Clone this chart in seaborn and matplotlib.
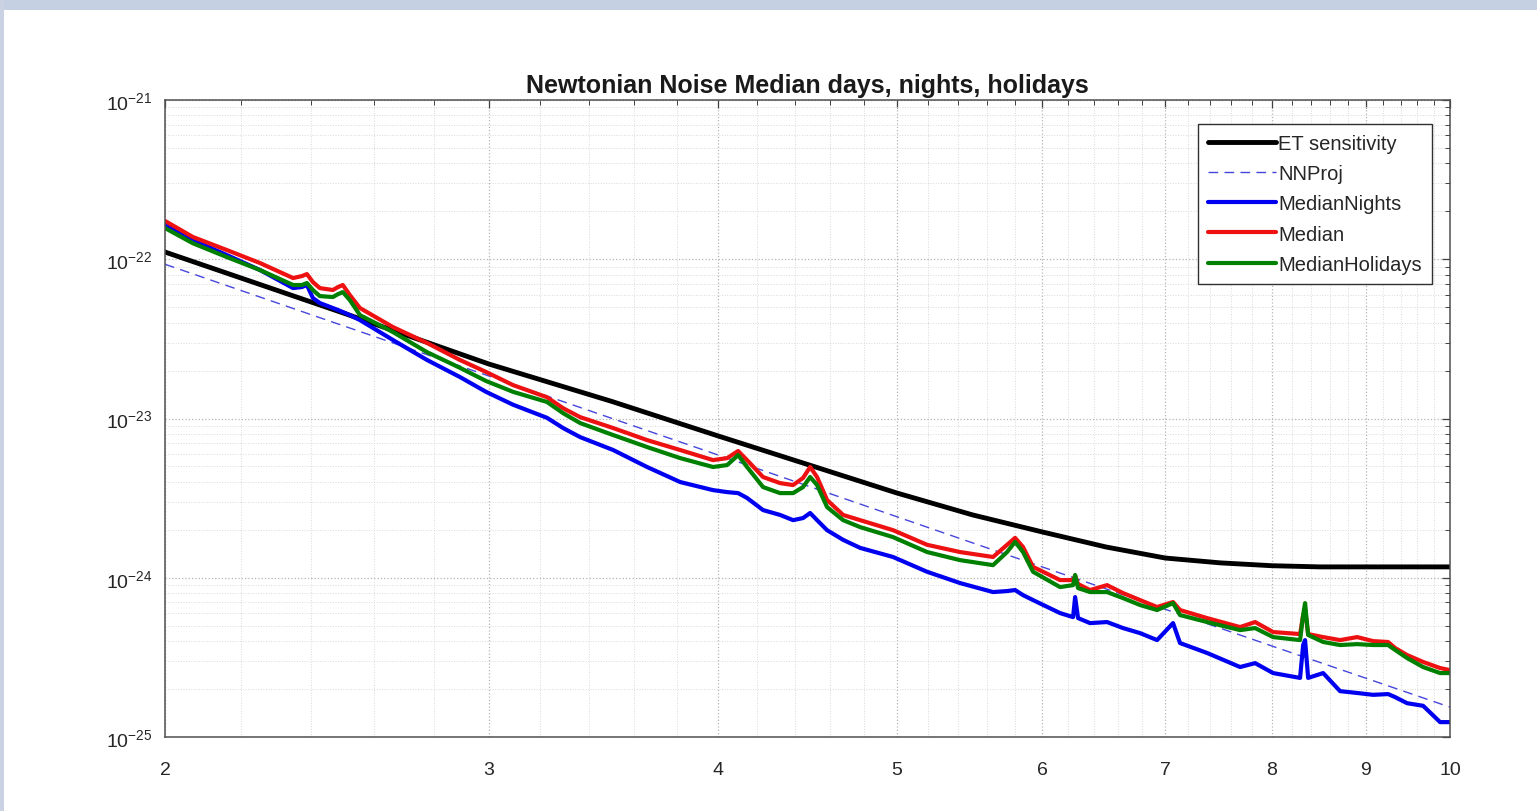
import matplotlib
matplotlib.use("Agg")
import matplotlib.pyplot as plt
import pandas as pd
import seaborn as sns
from matplotlib.ticker import FixedLocator, FixedFormatter, NullFormatter
from matplotlib.patches import Rectangle

# ---------------- data ----------------
title = "Newtonian Noise Median days, nights, holidays"

freq = [2.000, 2.071, 2.162, 2.253, 2.348, 2.374, 2.389, 2.407, 2.428, 2.468,
        2.484, 2.499, 2.521, 2.553, 2.661, 2.777, 2.894, 2.990, 3.093, 3.227,
        3.293, 3.364, 3.506, 3.658, 3.813, 3.973, 4.044, 4.100, 4.146, 4.230,
        4.321, 4.392, 4.447, 4.487, 4.526, 4.583, 4.676, 4.777, 4.978, 5.195,
        5.414, 5.642, 5.742, 5.800, 5.858, 5.932, 6.136, 6.237, 6.253, 6.276,
        6.371, 6.508, 6.640, 6.783, 6.929, 7.069, 7.131, 7.377, 7.688, 7.834,
        8.013, 8.288, 8.320, 8.340, 8.372, 8.531, 8.714, 8.902, 9.082, 9.254,
        9.336, 9.477, 9.669, 9.877, 10.000]

median = [1.74e-22, 1.38e-22, 1.14e-22, 9.46e-23, 7.62e-23, 7.84e-23, 8.07e-23, 7.19e-23, 6.59e-23, 6.41e-23,
          6.69e-23, 6.89e-23, 5.96e-23, 4.94e-23, 3.75e-23, 2.98e-23, 2.33e-23, 1.96e-23, 1.62e-23, 1.36e-23,
          1.16e-23, 1.02e-23, 8.71e-24, 7.32e-24, 6.34e-24, 5.48e-24, 5.64e-24, 6.25e-24, 5.48e-24, 4.29e-24,
          3.93e-24, 3.82e-24, 4.23e-24, 4.96e-24, 4.29e-24, 3.08e-24, 2.48e-24, 2.30e-24, 1.99e-24, 1.61e-24,
          1.45e-24, 1.35e-24, 1.61e-24, 1.78e-24, 1.56e-24, 1.17e-24, 9.67e-25, 9.67e-25, 1.03e-24, 9.13e-25,
          8.37e-25, 8.99e-25, 8.01e-25, 7.24e-25, 6.55e-25, 7.04e-25, 6.27e-25, 5.58e-25, 4.90e-25, 5.27e-25,
          4.56e-25, 4.43e-25, 5.83e-25, 6.27e-25, 4.43e-25, 4.24e-25, 4.06e-25, 4.24e-25, 4.00e-25, 3.95e-25,
          3.62e-25, 3.27e-25, 2.96e-25, 2.71e-25, 2.63e-25]

median_holidays = [1.57e-22, 1.26e-22, 1.03e-22, 8.55e-23, 6.89e-23, 6.89e-23, 7.09e-23, 6.41e-23, 5.87e-23, 5.79e-23,
                   6.04e-23, 6.22e-23, 5.54e-23, 4.46e-23, 3.49e-23, 2.61e-23, 2.08e-23, 1.72e-23, 1.47e-23, 1.27e-23,
                   1.08e-23, 9.36e-24, 7.87e-24, 6.62e-24, 5.64e-24, 4.96e-24, 5.10e-24, 5.89e-24, 4.96e-24, 3.71e-24,
                   3.40e-24, 3.40e-24, 3.71e-24, 4.29e-24, 3.82e-24, 2.78e-24, 2.30e-24, 2.08e-24, 1.80e-24, 1.45e-24,
                   1.29e-24, 1.20e-24, 1.45e-24, 1.68e-24, 1.45e-24, 1.09e-24, 8.74e-25, 8.99e-25, 1.04e-24, 8.61e-25,
                   8.13e-25, 8.13e-25, 7.45e-25, 6.74e-25, 6.27e-25, 6.93e-25, 5.83e-25, 5.27e-25, 4.69e-25, 4.83e-25,
                   4.24e-25, 4.06e-25, 5.83e-25, 6.93e-25, 4.37e-25, 3.95e-25, 3.78e-25, 3.83e-25, 3.78e-25, 3.78e-25,
                   3.52e-25, 3.13e-25, 2.75e-25, 2.52e-25, 2.52e-25]

median_nights = [1.64e-22, 1.32e-22, 1.06e-22, 8.55e-23, 6.59e-23, 6.69e-23, 6.89e-23, 5.71e-23, 5.31e-23, 4.94e-23,
                 4.80e-23, 4.66e-23, 4.46e-23, 4.15e-23, 3.11e-23, 2.33e-23, 1.82e-23, 1.47e-23, 1.22e-23, 1.01e-23,
                 8.71e-24, 7.64e-24, 6.34e-24, 4.96e-24, 3.99e-24, 3.55e-24, 3.45e-24, 3.40e-24, 3.17e-24, 2.66e-24,
                 2.48e-24, 2.30e-24, 2.37e-24, 2.55e-24, 2.30e-24, 1.99e-24, 1.73e-24, 1.54e-24, 1.35e-24, 1.09e-24,
                 9.26e-25, 8.13e-25, 8.25e-25, 8.37e-25, 7.78e-25, 7.24e-25, 6.00e-25, 5.66e-25, 7.56e-25, 5.58e-25,
                 5.19e-25, 5.27e-25, 4.83e-25, 4.49e-25, 4.06e-25, 5.19e-25, 3.89e-25, 3.37e-25, 2.75e-25, 2.91e-25,
                 2.52e-25, 2.35e-25, 3.78e-25, 4.06e-25, 2.35e-25, 2.52e-25, 1.94e-25, 1.89e-25, 1.84e-25, 1.86e-25,
                 1.78e-25, 1.63e-25, 1.57e-25, 1.24e-25, 1.24e-25]

et_freq = [2, 2.5, 3, 3.5, 4, 4.5, 5, 5.5, 6, 6.5, 7, 7.5, 8, 8.5, 9, 9.5, 10]
et_sensitivity = [1.11e-22, 4.60e-23, 2.20e-23, 1.28e-23, 7.76e-24, 5.03e-24, 3.41e-24, 2.48e-24, 1.94e-24,
                  1.56e-24, 1.33e-24, 1.24e-24, 1.19e-24, 1.17e-24, 1.17e-24, 1.17e-24, 1.17e-24]

nn_freq = [2, 3, 4, 5, 6, 7, 8, 9, 10]
nn_proj = [9.3e-23, 1.85e-23, 5.89e-24, 2.42e-24, 1.17e-24, 6.34e-25, 3.73e-25, 2.34e-25, 1.54e-25]

x_major = [2, 3, 4, 5, 6, 7, 8, 9, 10]
x_labels = ["2", "3", "4", "5", "6", "7", "8", "9", "10"]
y_major = [1e-25, 1e-24, 1e-23, 1e-22, 1e-21]
y_labels = [r"$10^{-25}$", r"$10^{-24}$", r"$10^{-23}$", r"$10^{-22}$", r"$10^{-21}$"]

labels = ["ET sensitivity", "NNProj", "MedianNights", "Median", "MedianHolidays"]

# ---------------- style ----------------
sns.set_theme(style="white")
plt.rcParams["font.family"] = ["Liberation Sans", "DejaVu Sans"]
plt.rcParams["mathtext.default"] = "regular"

W, H = 1537, 812
fig = plt.figure(figsize=(W / 100, H / 100), dpi=100, facecolor="white")

# slide frame decoration
fig.patches.append(Rectangle((0, 1 - 11 / H), 1, 11 / H, transform=fig.transFigure,
                             facecolor="#c5d0e2", edgecolor="none", zorder=0))
fig.patches.append(Rectangle((0, 0), 4 / W, 1, transform=fig.transFigure,
                             facecolor="#c9d3e3", edgecolor="none", zorder=0))

ax = fig.add_axes([165 / W, 1 - 738 / H, (1450 - 165) / W, (738 - 101) / H])
ax.set_xscale("log")
ax.set_yscale("log")

df_et = pd.DataFrame({"f": et_freq, "v": et_sensitivity})
df_nn = pd.DataFrame({"f": nn_freq, "v": nn_proj})
df_n = pd.DataFrame({"f": freq, "v": median_nights})
df_m = pd.DataFrame({"f": freq, "v": median})
df_h = pd.DataFrame({"f": freq, "v": median_holidays})

sns.lineplot(data=df_et, x="f", y="v", ax=ax, color="black", lw=3.5, label=labels[0],
             estimator=None, sort=False)
sns.lineplot(data=df_nn, x="f", y="v", ax=ax, color="#4646dc", lw=1.0, label=labels[1],
             estimator=None, sort=False, linestyle="--")
ax.lines[-1].set_dashes((7, 4.5))
sns.lineplot(data=df_n, x="f", y="v", ax=ax, color="#0000f0", lw=3.0, label=labels[2],
             estimator=None, sort=False)
sns.lineplot(data=df_m, x="f", y="v", ax=ax, color="#ee1111", lw=3.0, label=labels[3],
             estimator=None, sort=False)
sns.lineplot(data=df_h, x="f", y="v", ax=ax, color="#008000", lw=3.0, label=labels[4],
             estimator=None, sort=False)

ax.set_xlim(2, 10)
ax.set_ylim(1e-25, 1e-21)

# x ticks
minor_x = [a + b * 0.2 for a in range(2, 10) for b in range(1, 5)]
ax.xaxis.set_major_locator(FixedLocator(x_major))
ax.xaxis.set_major_formatter(FixedFormatter(x_labels))
ax.xaxis.set_minor_locator(FixedLocator(minor_x))
ax.xaxis.set_minor_formatter(NullFormatter())

# y ticks
minor_y = [m * d for d in y_major[:-1] for m in range(2, 10)]
ax.yaxis.set_major_locator(FixedLocator(y_major))
ax.yaxis.set_major_formatter(FixedFormatter(y_labels))
ax.yaxis.set_minor_locator(FixedLocator(minor_y))
ax.yaxis.set_minor_formatter(NullFormatter())

ax.tick_params(which="both", direction="in", top=True, right=True, colors="#404040",
               labelcolor="#262626", labelsize=14)
ax.tick_params(which="major", length=6, width=0.9)
ax.tick_params(which="minor", length=3.5, width=0.7)
ax.tick_params(axis="x", which="major", pad=17)
ax.tick_params(axis="y", which="major", pad=9)

ax.grid(True, which="major", color="#b5b5b5", linestyle=":", linewidth=0.9)
ax.grid(True, which="minor", color="#d9d9d9", linestyle=":", linewidth=0.7)

for s in ax.spines.values():
    s.set_color("#505050")
    s.set_linewidth(1.1)

ax.set_xlabel("")
ax.set_ylabel("")
ax.set_title(title, fontsize=18, fontweight="bold", color="#1a1a1a", pad=6)

leg = ax.legend(loc="upper right", bbox_to_anchor=(0.986, 0.962), fontsize=14.5,
                frameon=True, fancybox=False, framealpha=1, edgecolor="#303030",
                handlelength=3.4, handletextpad=0.1, labelspacing=0.55, borderpad=0.5,
                borderaxespad=0.0)
leg.get_frame().set_linewidth(1.0)

fig.savefig("out.png", dpi=100, facecolor=fig.get_facecolor())
